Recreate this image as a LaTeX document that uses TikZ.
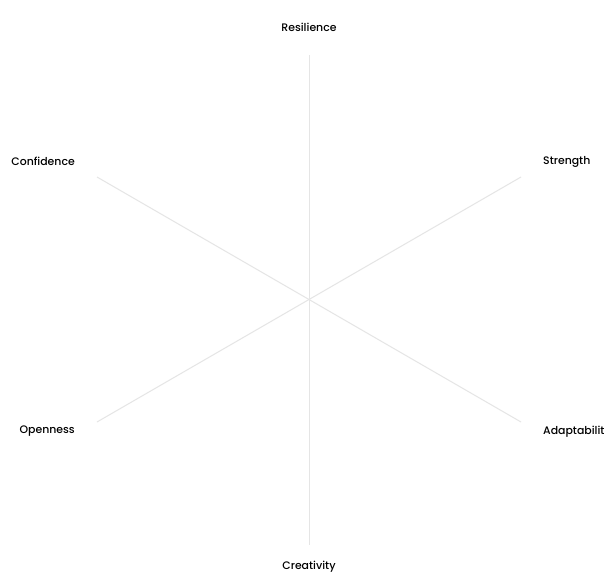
\documentclass[tikz,border=0pt]{standalone}
\usepackage{fontspec}
\setmainfont{Poppins Medium}
\begin{document}
\begin{tikzpicture}[x=1pt,y=-1pt,
  spoke/.style={draw=black!10, line width=1pt},
  lbl/.style={inner sep=0pt, font=\fontsize{10.9}{13}\selectfont, text=black}]
\useasboundingbox[fill=white] (0,0) rectangle (614,587);
\coordinate (c) at (309,299);
\coordinate (pT) at (309,55);
\coordinate (pB) at (309,545);
\coordinate (pTL) at (97,177);
\coordinate (pTR) at (521,177);
\coordinate (pBL) at (97,422);
\coordinate (pBR) at (521,422);
\draw[spoke] (pT) -- (pB);
\draw[spoke] (pTL) -- (pBR);
\draw[spoke] (pTR) -- (pBL);
\node[lbl] (res) at (309,27.5) {Resilience};
\node[lbl] (cre) at (309,566.5) {Creativity};
\node[lbl, anchor=west] (str) at (543,161.5) {Strength};
\node[lbl, anchor=west] (ada) at (543,431.5) {Adaptabilit};
\node[lbl, anchor=east] (con) at (75,161.5) {Confidence};
\node[lbl, anchor=east] (ope) at (75,431.5) {Openness};
\end{tikzpicture}
\end{document}
